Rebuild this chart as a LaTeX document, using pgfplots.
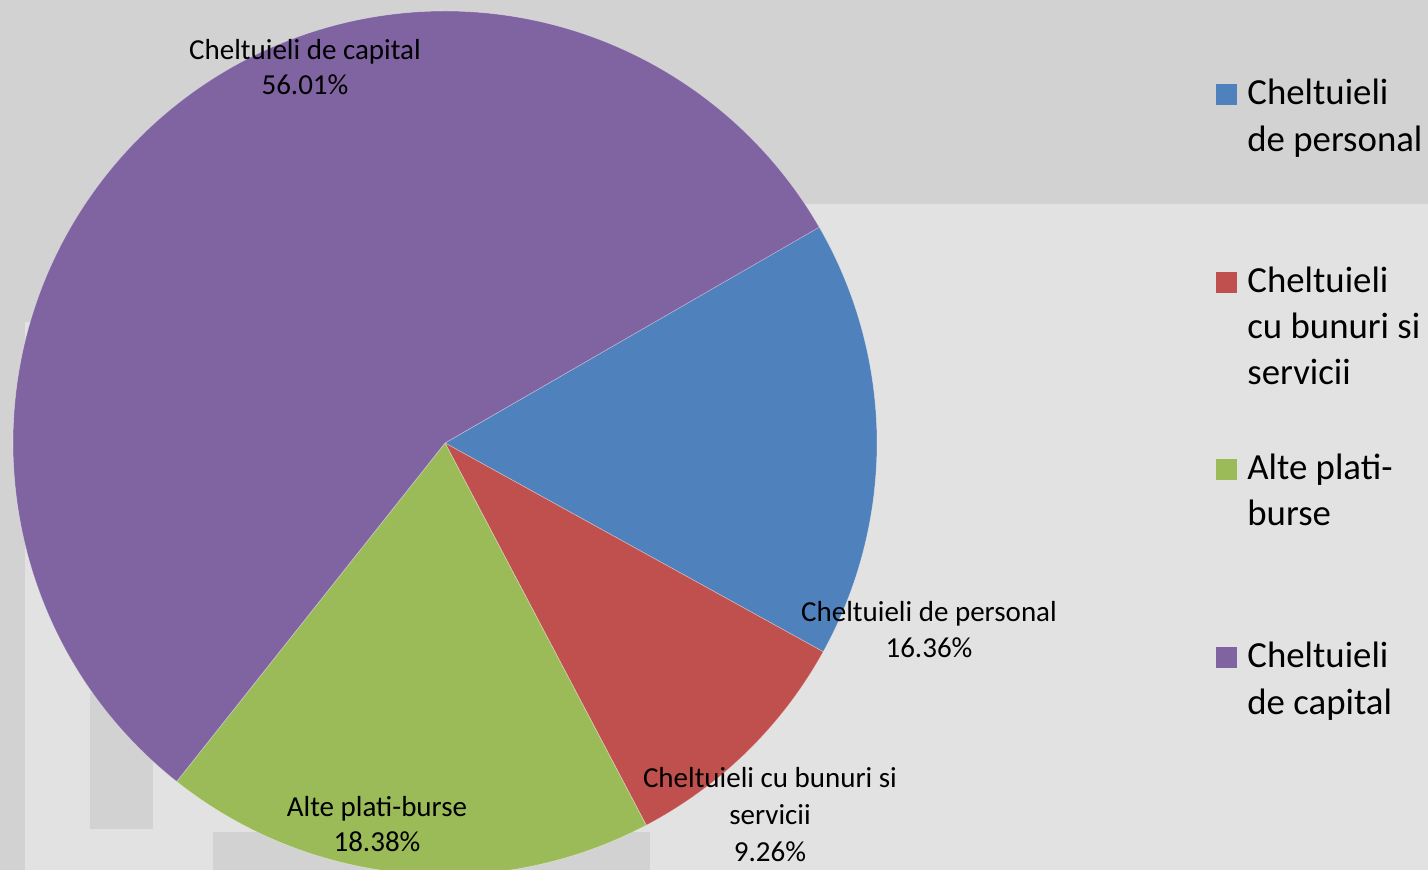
\documentclass[border=0pt]{standalone}
\usepackage{pgfplots}
\usepackage{pgfplotstable}
\usepackage{fontspec}
\setmainfont{Carlito}
\pgfplotsset{compat=1.18}

\definecolor{cblue}{HTML}{4F81BD}
\definecolor{cred}{HTML}{C0504D}
\definecolor{cgreen}{HTML}{9BBB59}
\definecolor{cpurple}{HTML}{8064A2}
\definecolor{bgdark}{HTML}{D2D2D2}
\definecolor{bglight}{HTML}{E2E2E2}

% shares in percent, clockwise from 30 degrees
\pgfplotstableread{
pct   col
16.36 cblue
9.26  cred
18.38 cgreen
56.01 cpurple
}\piedata

\newcommand\lblfont{\fontsize{14.5}{18}\selectfont}
\newcommand\legfont{\fontsize{18.4}{23}\selectfont}

\begin{document}
\begin{tikzpicture}
\begin{axis}[
  width=714pt, height=435pt, scale only axis,
  hide axis,
  xmin=0, xmax=1428, ymin=0, ymax=870,
  clip=true,
]
% background panels
\fill[bglight] (axis cs:0,0) rectangle (axis cs:1428,870);
\fill[bgdark] (axis cs:0,666) rectangle (axis cs:1428,870);
\fill[bgdark] (axis cs:0,548) rectangle (axis cs:445,870);
\fill[bgdark] (axis cs:0,0) rectangle (axis cs:25,870);
\fill[bgdark] (axis cs:90,41) rectangle (axis cs:153,177);
\fill[bgdark] (axis cs:213,0) rectangle (axis cs:650,38);

% pie slices
\pgfmathsetmacro\cum{30}
\pgfplotsforeachungrouped \i in {0,...,3}{%
  \pgfplotstablegetelem{\i}{pct}\of\piedata \let\pct\pgfplotsretval
  \pgfplotstablegetelem{\i}{col}\of\piedata \let\scol\pgfplotsretval
  \pgfmathsetmacro\nxt{\cum-3.6*\pct}%
  \edef\tmp{\noexpand\fill[\scol, draw=white, draw opacity=0.4, line width=0.3pt]
    (axis cs:445,427) -- ++(\cum:216pt)
    arc[start angle=\cum, end angle=\nxt, radius=216pt] -- cycle;}%
  \tmp
  \let\cum\nxt
}

% data labels
\begin{scope}[every node/.style={anchor=base, font=\lblfont, inner sep=0pt}]
\node at (axis cs:305,810) {Cheltuieli de capital};
\node at (axis cs:305,775) {56.01\%};
\node at (axis cs:929,248) {Cheltuieli de personal};
\node at (axis cs:929,212) {16.36\%};
\node at (axis cs:770,82) {Cheltuieli cu bunuri si};
\node at (axis cs:770,45) {servicii};
\node at (axis cs:770,8) {9.26\%};
\node at (axis cs:377,53) {Alte plati-burse};
\node at (axis cs:377,18) {18.38\%};
\end{scope}

% legend
\fill[cblue]   (axis cs:1216,765) rectangle (axis cs:1237,786);
\fill[cred]    (axis cs:1216,577) rectangle (axis cs:1237,598);
\fill[cgreen]  (axis cs:1216,390) rectangle (axis cs:1237,411);
\fill[cpurple] (axis cs:1216,202) rectangle (axis cs:1237,223);
\begin{scope}[every node/.style={anchor=base west, font=\legfont, inner sep=0pt}]
\node at (axis cs:1247,765) {Cheltuieli};
\node at (axis cs:1247,718) {de personal};
\node at (axis cs:1247,577) {Cheltuieli};
\node at (axis cs:1247,531) {cu bunuri si};
\node at (axis cs:1247,485) {servicii};
\node at (axis cs:1247,390) {Alte plati-};
\node at (axis cs:1247,344) {burse};
\node at (axis cs:1247,202) {Cheltuieli};
\node at (axis cs:1247,155) {de capital};
\end{scope}
\end{axis}
\pgfresetboundingbox
\useasboundingbox (current axis.south west) rectangle (current axis.north east);
\end{tikzpicture}
\end{document}
